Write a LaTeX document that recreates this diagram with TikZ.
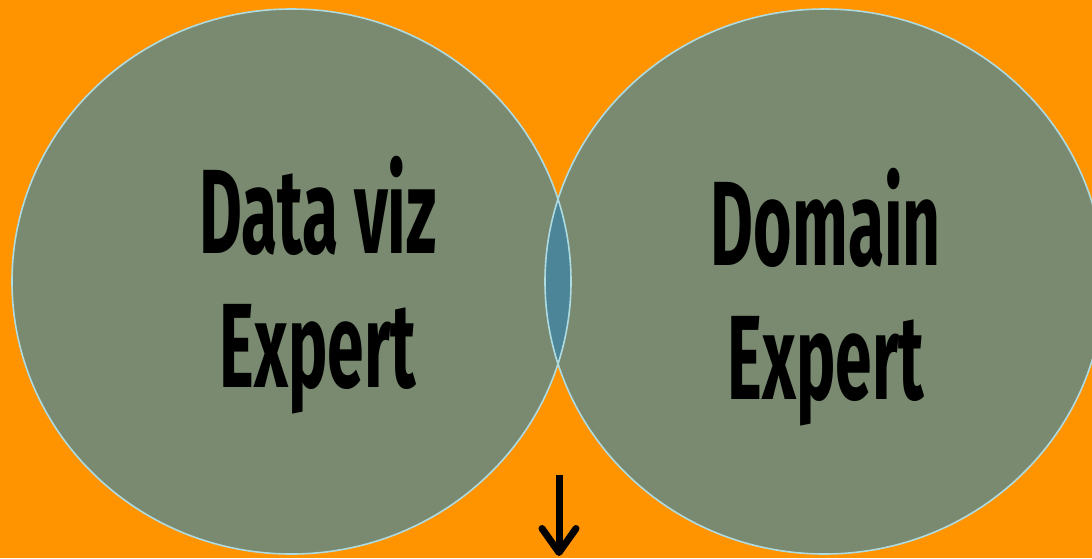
\documentclass[tikz,border=0pt]{standalone}
\usepackage{fontspec}
\newfontfamily\vennfont[FakeStretch=0.55]{Fira Sans}
\usetikzlibrary{shapes.geometric,arrows.meta}
\definecolor{bgorange}{HTML}{FF9300}
\definecolor{vennfill}{HTML}{798A70}
\definecolor{vennline}{HTML}{AEDBE2}
\definecolor{lensfill}{HTML}{4B8597}

\begin{document}
\begin{tikzpicture}[x=1pt,y=-1pt,
  venn/.style={ellipse,fill=vennfill,minimum width=559pt,minimum height=545pt,inner sep=0pt},
  rim/.style={draw=vennline,line width=1.6pt},
  label/.style={align=center,font=\vennfont\bfseries\fontsize{120}{134}\selectfont,inner sep=0pt}]
\fill [bgorange] (0,0) rectangle (1092,558);
\useasboundingbox (0,0) rectangle (1092,558);
\node (vizcircle) at (291.5,281.5) [venn] {};
\node (domcircle) at (824.5,281.5) [venn] {};
% overlap of the two sets
\begin{scope}
  \clip (291.5,281.5) ellipse [x radius=279.5pt,y radius=272.5pt];
  \fill [lensfill] (824.5,281.5) ellipse [x radius=279.5pt,y radius=272.5pt];
\end{scope}
\draw [rim] (291.5,281.5) ellipse [x radius=279.5pt,y radius=272.5pt];
\draw [rim] (824.5,281.5) ellipse [x radius=279.5pt,y radius=272.5pt];
\node (viztext) at (318,285) [label] {Data viz\\Expert};
\node (domtext) at (826,297) [label] {Domain\\Expert};
\coordinate (arrowtop) at (559,475);
\coordinate (arrowend) at (559,556);
\draw [line width=7pt,-{Straight Barb[round,length=24pt,width=34pt]}] (arrowtop) -- (arrowend);
\end{tikzpicture}
\end{document}
